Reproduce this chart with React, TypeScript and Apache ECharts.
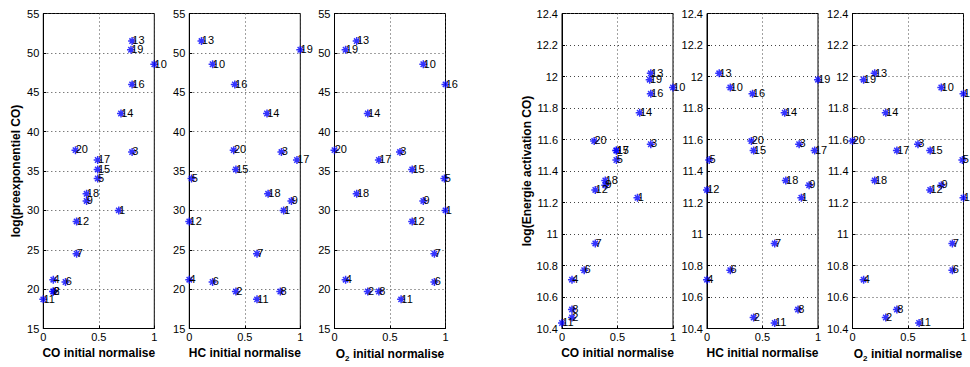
import React, { useEffect, useRef } from 'react';
import * as echarts from 'echarts';

const pointIds = ['1', '2', '3', '4', '5', '6', '7', '8', '9', '10', '11', '12', '13', '14', '15', '16', '17', '18', '19', '20'];
const coInitial = [0.68, 0.09, 0.8, 0.09, 0.49, 0.2, 0.3, 0.09, 0.39, 1.0, 0, 0.3, 0.8, 0.7, 0.49, 0.8, 0.49, 0.39, 0.79, 0.29];
const hcInitial = [0.85, 0.42, 0.83, 0, 0.02, 0.21, 0.61, 0.82, 0.92, 0.21, 0.61, 0, 0.11, 0.7, 0.42, 0.41, 0.97, 0.71, 1.0, 0.4];
const o2Initial = [1.0, 0.3, 0.59, 0.1, 0.99, 0.9, 0.9, 0.4, 0.8, 0.8, 0.6, 0.7, 0.2, 0.3, 0.7, 1.0, 0.4, 0.2, 0.1, 0];
const logPreexpCO = [30.0, 19.7, 37.4, 21.2, 34.05, 20.9, 24.5, 19.7, 31.2, 48.55, 18.7, 28.6, 51.5, 42.3, 35.2, 46.0, 36.4, 32.1, 50.4, 37.65];
const logEaCO = [11.23, 10.47, 11.57, 10.71, 11.47, 10.77, 10.94, 10.52, 11.31, 11.93, 10.435, 11.28, 12.02, 11.77, 11.53, 11.89, 11.53, 11.34, 11.98, 11.59];

const xNames = ['CO initial normalise', 'HC initial normalise', '{m|O}{s|2}{m| initial normalise}'];
const yNames = ['log(preexponentiel CO)', 'log(Energie activation CO)'];
const yRanges = [
  { min: 15, max: 55, interval: 5 },
  { min: 10.4, max: 12.4, interval: 0.2 },
];

const FONT = '"Liberation Sans", Arial, Helvetica, sans-serif';
const STAR = 'path://M4 0L4 8M0 4L8 4M1.3 1.3L6.7 6.7M1.3 6.7L6.7 1.3';

export default function App() {
  const ref = useRef<HTMLDivElement>(null);
  useEffect(() => {
    if (!ref.current) return;
    const chart = echarts.init(ref.current, undefined, { renderer: 'svg' });
    const lefts = [43.3, 189.3, 334.5, 562, 707, 852.5];
    const xs = [coInitial, hcInitial, o2Initial];
    const ys = [logPreexpCO, logEaCO];
    const grids: any[] = [];
    const xAxes: any[] = [];
    const yAxes: any[] = [];
    const series: any[] = [];
    for (let p = 0; p < 6; p++) {
      const row = p < 3 ? 0 : 1;
      const col = p % 3;
      grids.push({
        left: lefts[p], top: 13.5, width: 111, height: 315,
        show: true, borderColor: '#000', borderWidth: 1, backgroundColor: '#fff',
        outerBoundsMode: 'none',
      });
      xAxes.push({
        gridIndex: p, type: 'value', min: 0, max: 1, interval: 0.5,
        name: xNames[col], nameLocation: 'middle', nameGap: col === 2 ? 16 : 18,
        nameTextStyle: {
          fontFamily: FONT, fontWeight: 'bold', fontSize: 12, color: '#000',
          rich: {
            m: { fontFamily: FONT, fontWeight: 'bold', fontSize: 12, color: '#000' },
            s: { fontFamily: FONT, fontWeight: 'bold', fontSize: 8, color: '#000', padding: [10, 0, 0, 0] },
          },
        },
        axisLine: { show: true, lineStyle: { color: '#000' } },
        axisTick: { show: true, inside: true, length: 3, lineStyle: { color: '#000' } },
        axisLabel: { fontFamily: FONT, fontSize: 11, color: '#000', margin: 3, formatter: (v: number) => String(v) },
        splitLine: { show: true, lineStyle: { color: '#444', type: [1, 3], width: 1 } },
      });
      yAxes.push({
        gridIndex: p, type: 'value', ...yRanges[row],
        name: col === 0 ? yNames[row] : '', nameLocation: 'middle', nameGap: row === 0 ? 21 : 27,
        nameTextStyle: { fontFamily: FONT, fontWeight: 'bold', fontSize: 12, color: '#000' },
        axisLine: { show: true, lineStyle: { color: '#000' } },
        axisTick: { show: true, inside: true, length: 3, lineStyle: { color: '#000' } },
        axisLabel: { fontFamily: FONT, fontSize: 11, color: '#000', margin: 4, formatter: (v: number) => String(Math.round(v * 10) / 10) },
        splitLine: { show: true, lineStyle: { color: '#444', type: [1, 3], width: 1 } },
      });
      series.push({
        type: 'scatter', xAxisIndex: p, yAxisIndex: p, clip: false,
        symbol: STAR, symbolSize: 8,
        itemStyle: { color: 'rgba(0,0,0,0)', borderColor: '#0000ff', borderWidth: 1.5 },
        label: {
          show: true, position: [5, 4], align: 'left', verticalAlign: 'middle',
          formatter: '{b}', fontFamily: FONT, fontSize: 11, color: '#000',
          textBorderWidth: 0, textBorderColor: 'transparent', opacity: 1,
        },
        data: pointIds.map((id, i) => ({ name: id, value: [xs[col][i], ys[row][i]] })),
      });
    }
    chart.setOption({
      animation: false,
      backgroundColor: '#fff',
      grid: grids, xAxis: xAxes, yAxis: yAxes, series,
    });
    return () => chart.dispose();
  }, []);
  return <div ref={ref} style={{ position: 'fixed', left: 0, top: 0, width: 970, height: 367 }} />;
}
